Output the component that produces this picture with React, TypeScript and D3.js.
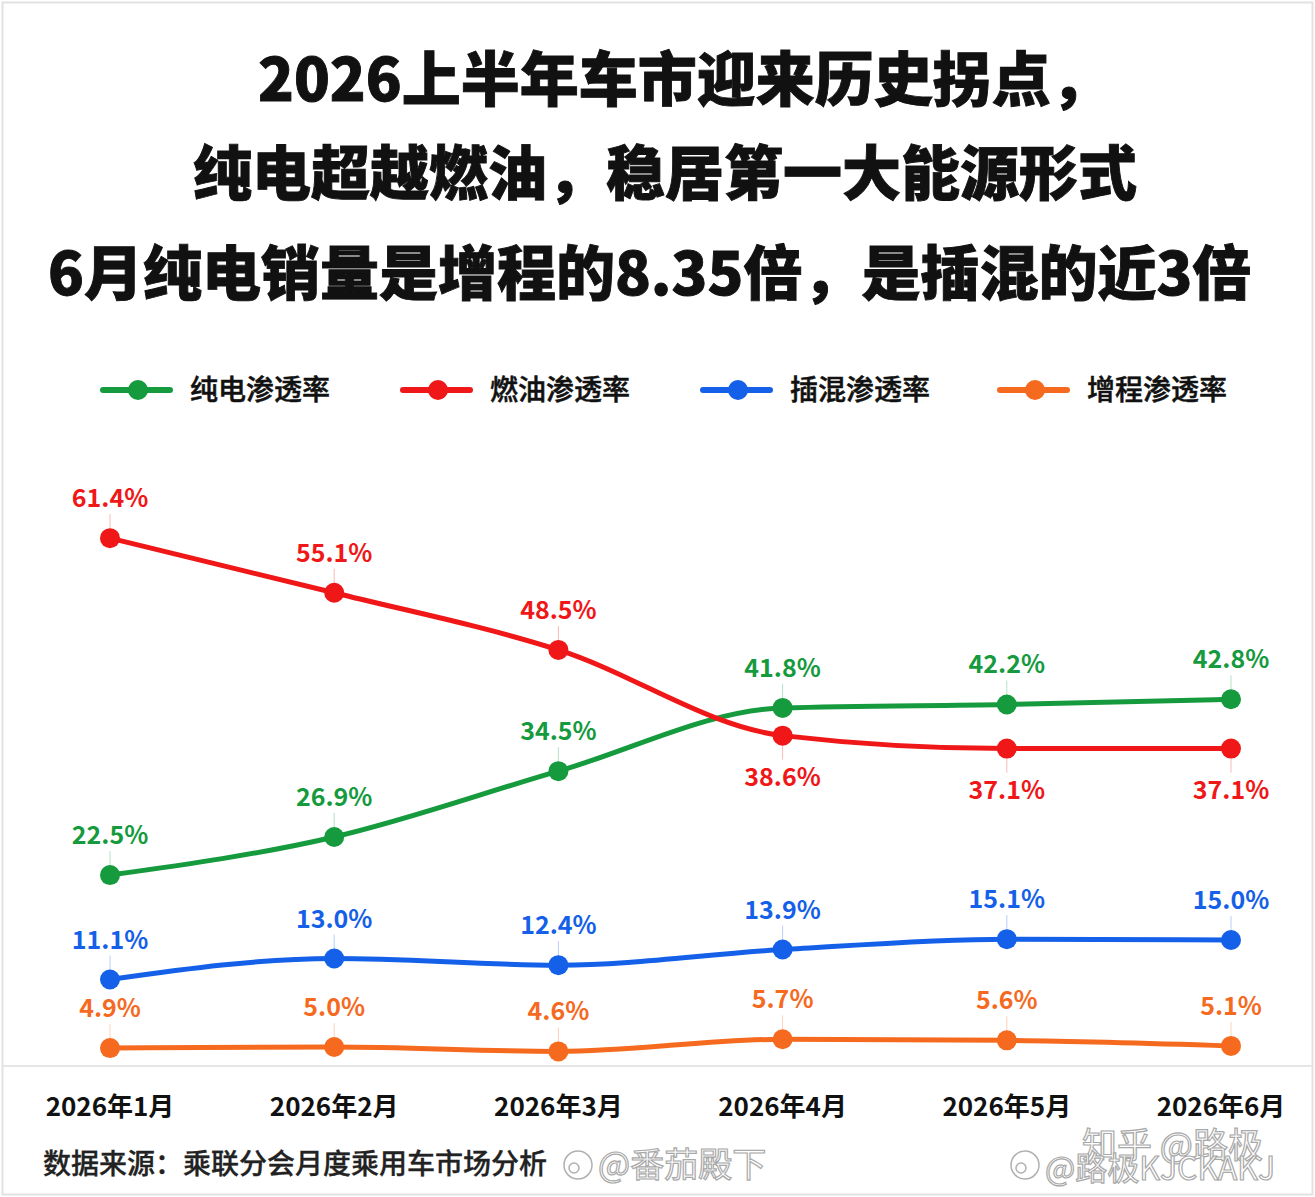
import React from "react";
import * as d3 from "d3";

const W = 1315;
const H = 1197;

const titleLines = [
  "2026上半年车市迎来历史拐点，",
  "纯电超越燃油，稳居第一大能源形式",
  "6月纯电销量是增程的8.35倍，是插混的近3倍",
];

const months = ["2026年1月", "2026年2月", "2026年3月", "2026年4月", "2026年5月", "2026年6月"];

const seriesNames = ["纯电渗透率", "燃油渗透率", "插混渗透率", "增程渗透率"];
const seriesColors = ["#159a3e", "#ef1717", "#1560e8", "#f56a1f"];

const bevValues = [22.5, 26.9, 34.5, 41.8, 42.2, 42.8];
const iceValues = [61.4, 55.1, 48.5, 38.6, 37.1, 37.1];
const phevValues = [11.1, 13.0, 12.4, 13.9, 15.1, 15.0];
const erevValues = [4.9, 5.0, 4.6, 5.7, 5.6, 5.1];

// label placed below the point for these (series index, month index)
const belowLabels = [
  [1, 3],
  [1, 4],
  [1, 5],
];

const sourceText = "数据来源：乘联分会月度乘用车市场分析";
const watermarks = ["@番茄殿下", "知乎 @路极", "@路极KJCKAKJ"];

const FONT = "'Noto Sans CJK SC', 'Noto Sans', sans-serif";

export default function App() {
  const allSeries = [bevValues, iceValues, phevValues, erevValues];

  const x = d3.scalePoint<string>().domain(months).range([110, 1231]);
  // piecewise-linear value axis (the reference spreads the low range a little wider)
  const y = d3.scaleLinear().domain([0, 13.5, 65]).range([1102.3, 953, 507]);

  const line = d3
    .line<number>()
    .x((_, i) => x(months[i]) as number)
    .y((d) => y(d))
    .curve(d3.curveMonotoneX);

  const isBelow = (s: number, m: number) =>
    belowLabels.some(([a, b]) => a === s && b === m);

  const legendX = [103, 403, 703, 1000];
  const legendY = 390;
  const titleX = [258, 193, 48];
  const titleY = [101, 195, 295];

  return (
    <svg
      width={W}
      height={H}
      viewBox={`0 0 ${W} ${H}`}
      style={{ position: "absolute", left: 0, top: 0, display: "block", background: "#fff" }}
      fontFamily={FONT}
    >
      <rect x={2.5} y={2.5} width={W - 5} height={H - 5} fill="#fff" stroke="#e2e2e2" strokeWidth={2} />

      {titleLines.map((t, i) => (
        <text
          key={i}
          x={titleX[i]}
          y={titleY[i]}
          fontSize={59}
          fontWeight={900}
          fill="#111"
          stroke="#111"
          strokeWidth={0.9}
        >
          {t}
        </text>
      ))}

      {/* legend */}
      {seriesNames.map((name, i) => (
        <g key={name}>
          <line
            x1={legendX[i]}
            x2={legendX[i] + 67}
            y1={legendY}
            y2={legendY}
            stroke={seriesColors[i]}
            strokeWidth={6}
            strokeLinecap="round"
          />
          <circle cx={legendX[i] + 35} cy={legendY} r={10} fill={seriesColors[i]} />
          <text
            x={legendX[i] + 87}
            y={legendY + 10}
            fontSize={28}
            fontWeight={500}
            fill="#111"
            stroke="#111"
            strokeWidth={0.5}
          >
            {name}
          </text>
        </g>
      ))}

      {/* baseline */}
      <line x1={3} x2={W - 3} y1={1066} y2={1066} stroke="#e6e6e6" strokeWidth={2} />

      {/* lines */}
      {allSeries.map((vals, s) => (
        <path
          key={s}
          d={line(vals) || ""}
          fill="none"
          stroke={seriesColors[s]}
          strokeWidth={5}
          strokeLinecap="round"
        />
      ))}

      {/* leader lines, points, labels */}
      {allSeries.map((vals, s) =>
        vals.map((v, m) => {
          const px = x(months[m]) as number;
          const py = y(v);
          const below = isBelow(s, m);
          const ly = below ? py + 50 : py - 31;
          return (
            <g key={`${s}-${m}`}>
              <line
                x1={px}
                x2={px}
                y1={below ? py : py - 24}
                y2={below ? py + 24 : py}
                stroke={seriesColors[s]}
                strokeOpacity={0.3}
                strokeWidth={1}
              />
              <circle cx={px} cy={py} r={10} fill={seriesColors[s]} />
              <text
                x={px}
                y={ly}
                textAnchor="middle"
                fontSize={25}
                fontWeight={700}
                fill={seriesColors[s]}
              >
                {v.toFixed(1)}%
              </text>
            </g>
          );
        })
      )}

      {/* x axis labels */}
      {months.map((m) => (
        <text
          key={m}
          x={Math.min(x(m) as number, 1221)}
          y={1116}
          textAnchor="middle"
          fontSize={26}
          fontWeight={700}
          fill="#111"
        >
          {m}
        </text>
      ))}

      <text x={43} y={1174} fontSize={28} fontWeight={500} fill="#222" stroke="#222" strokeWidth={0.3}>
        {sourceText}
      </text>

      {/* watermarks */}
      <g fill="none" stroke="#b0b0b0" strokeWidth={1.5}>
        <circle cx={578} cy={1165} r={14} />
        <circle cx={574} cy={1168} r={5} />
      </g>
      <text x={598} y={1177} fontSize={34} fill="#fff" stroke="#a8a8a8" strokeWidth={1.2}>
        {watermarks[0]}
      </text>
      <text x={1082} y={1158} fontSize={35} fill="#fff" stroke="#a8a8a8" strokeWidth={1.2}>
        {watermarks[1]}
      </text>
      <g fill="none" stroke="#b0b0b0" strokeWidth={1.5}>
        <circle cx={1025} cy={1165} r={14} />
        <circle cx={1021} cy={1168} r={5} />
      </g>
      <text x={1045} y={1180} fontSize={32} fill="#fff" stroke="#a8a8a8" strokeWidth={1.2}>
        {watermarks[2]}
      </text>
    </svg>
  );
}
